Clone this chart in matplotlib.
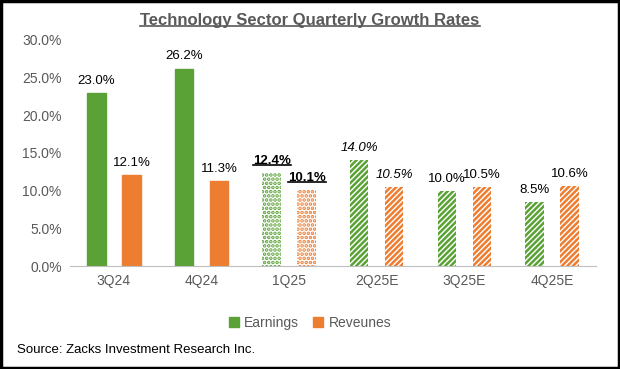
import matplotlib.pyplot as plt
import numpy as np
from matplotlib.patches import Rectangle
from matplotlib.lines import Line2D

plt.rcParams['font.family'] = ['Liberation Sans', 'DejaVu Sans']
plt.rcParams['hatch.linewidth'] = 1.8

quarters = ['3Q24', '4Q24', '1Q25', '2Q25E', '3Q25E', '4Q25E']
earnings = [23.0, 26.2, 12.4, 14.0, 10.0, 8.5]
revenues = [12.1, 11.3, 10.1, 10.5, 10.5, 10.6]
label_styles = ['normal', 'normal', 'bold', 'italic', 'normal', 'normal']
hatches = [None, None, '....', '//////', '//////', '//////']

green = '#5aa236'
orange = '#ed7d31'
gray = '#595959'

fig = plt.figure(figsize=(6.2, 3.69), dpi=100)
ax = fig.add_axes([0.113, 0.279, 0.848, 0.613])

x = np.arange(len(quarters))
w = 0.21
off = 0.2
texts = []
for i in range(len(quarters)):
    for val, col, dx in ((earnings[i], green, -off), (revenues[i], orange, off)):
        if hatches[i] is None:
            ax.bar(x[i] + dx, val, w, color=col, edgecolor=col)
        else:
            ax.bar(x[i] + dx, val, w, facecolor='white', edgecolor=col,
                   hatch=hatches[i], linewidth=0)
        st = label_styles[i]
        t = ax.text(x[i] + dx, val + 0.8, f'{val:.1f}%', ha='center', va='bottom',
                    fontsize=9.5, color='black',
                    fontweight='bold' if st == 'bold' else 'normal',
                    fontstyle='italic' if st == 'italic' else 'normal')
        if st == 'bold':
            texts.append(t)

ax.set_xlim(-0.5, len(quarters) - 0.5)
ax.set_ylim(0, 30)
ax.set_yticks(np.arange(0, 31, 5))
ax.set_yticklabels([f'{v:.1f}%' for v in np.arange(0, 31, 5)])
ax.set_xticks(x)
ax.set_xticklabels(quarters)
ax.tick_params(axis='both', length=0, labelsize=10, colors=gray, pad=6)
for s in ['top', 'right', 'left']:
    ax.spines[s].set_visible(False)
ax.spines['bottom'].set_color('#bfbfbf')

title = fig.text(0.5, 0.945, 'Technology Sector Quarterly Growth Rates', ha='center',
                 va='center', fontsize=12, fontweight='bold', color=gray)
texts.append(title)

handles = [Rectangle((0, 0), 1, 1, color=green), Rectangle((0, 0), 1, 1, color=orange)]
fig.legend(handles, ['Earnings', 'Reveunes'], loc='center', bbox_to_anchor=(0.5, 0.125),
           ncol=2, frameon=False, fontsize=10, handlelength=0.7, handleheight=0.7,
           columnspacing=1.0, handletextpad=0.4, labelcolor=gray)

fig.text(0.027, 0.052, 'Source: Zacks Investment Research Inc.', fontsize=9.5,
         color='black', va='center')

fig.patches.append(Rectangle((0.002, 0.003), 0.996, 0.994, transform=fig.transFigure,
                             fill=False, edgecolor='black', linewidth=2.5))

fig.canvas.draw()
r = fig.canvas.get_renderer()
for t in texts:
    bb = t.get_window_extent(r).transformed(fig.transFigure.inverted())
    fig.add_artist(Line2D([bb.x0, bb.x1], [bb.y0 + 0.004, bb.y0 + 0.004],
                          transform=fig.transFigure, color=t.get_color(), linewidth=1.2))

fig.savefig('out.png', dpi=100)
